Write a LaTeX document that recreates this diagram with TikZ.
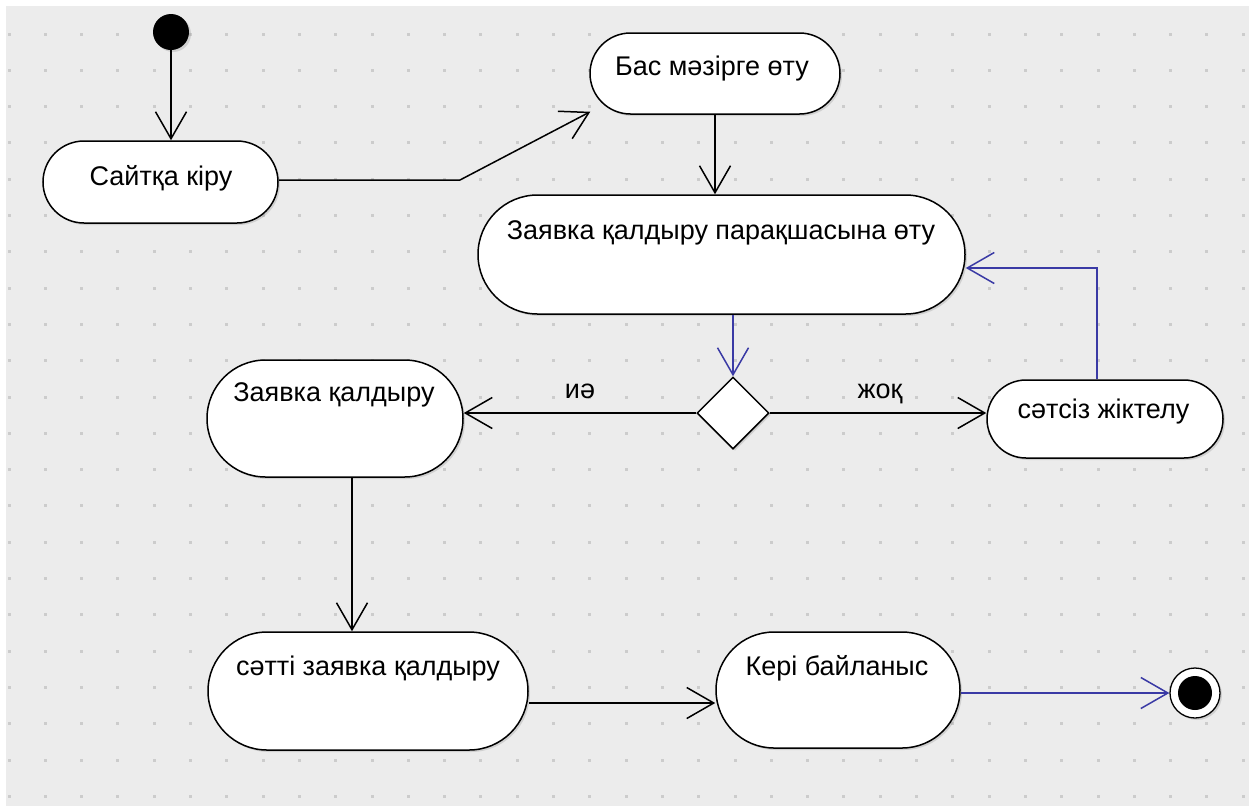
\documentclass[tikz,border=0pt]{standalone}
\usepackage{fontspec}
\setmainfont{Liberation Sans}
\usetikzlibrary{arrows.meta,shapes.geometric,shadows,calc}
\definecolor{canvas}{RGB}{236,236,236}
\definecolor{griddot}{RGB}{204,204,204}
\definecolor{flowblue}{RGB}{58,58,165}

\begin{document}
\begin{tikzpicture}[x=1pt,y=-1pt,
  act/.style={draw=black, line width=1.5pt, fill=white, rectangle, inner sep=0pt,
    drop shadow={shadow xshift=2pt, shadow yshift=-2pt, opacity=0.25}},
  lbl/.style={font=\fontsize{27}{32}\selectfont, inner sep=0pt, anchor=base},
  flow/.style={line width=1.5pt, -{Straight Barb[length=27pt,width=31pt]}},
  blueflow/.style={flow, draw=flowblue},
]
\useasboundingbox (0,0) rectangle (1256,807);

% canvas with dot grid
\fill[white] (0,0) rectangle (1256,807);
\fill[canvas] (6,6) rectangle (1249,806);
\foreach \i in {0,...,34}
  \foreach \j in {0,...,21}
    \fill[griddot] ({7.5+36.3*\i},{32.5+36.3*\j}) rectangle +(3,3);

% start and end
\node[circle, fill=black, minimum size=36pt, inner sep=0pt,
  drop shadow={shadow xshift=2pt, shadow yshift=-2pt, opacity=0.25}] (start) at (171,32) {};
\node[circle, draw=black, line width=1.3pt, fill=white, minimum size=50pt, inner sep=0pt,
  drop shadow={shadow xshift=2pt, shadow yshift=-2pt, opacity=0.25}] (finish) at (1195,693) {};
\node[circle, fill=black, minimum size=34pt, inner sep=0pt] (finishdot) at (finish) {};

% activities
\node[act, minimum width=235pt, minimum height=82pt, rounded corners=41pt] (sayt) at (160.5,182) {};
\node[lbl] (saytT) at (161,185) {Сайтқа кіру};

\node[act, minimum width=250pt, minimum height=81pt, rounded corners=40.5pt] (bas) at (715,73.5) {};
\node[lbl] (basT) at (712,75) {Бас мәзірге өту};

\node[act, minimum width=487pt, minimum height=119pt, rounded corners=59.5pt] (zp) at (721.5,254.5) {};
\node[lbl] (zpT) at (721,239) {Заявка қалдыру парақшасына өту};

\node[act, minimum width=256pt, minimum height=117pt, rounded corners=58.5pt] (zk) at (335,418.5) {};
\node[lbl] (zkT) at (334,401) {Заявка қалдыру};

\node[act, minimum width=236pt, minimum height=78pt, rounded corners=39pt] (sts) at (1105,419) {};
\node[lbl] (stsT) at (1103.5,418) {сәтсіз жіктелу};

\node[act, minimum width=320pt, minimum height=118pt, rounded corners=59pt] (stz) at (368,691) {};
\node[lbl] (stzT) at (368,675) {сәтті заявка қалдыру};

\node[act, minimum width=244pt, minimum height=116pt, rounded corners=58pt] (keri) at (838,690) {};
\node[lbl] (keriT) at (837,675) {Кері байланыс};

% decision
\node[diamond, draw=black, line width=1.5pt, fill=white, minimum width=72pt, minimum height=72pt,
  inner sep=0pt, drop shadow={shadow xshift=2pt, shadow yshift=-2pt, opacity=0.25}] (dec) at (733,413) {};
\node[lbl] (yes) at (580,398) {иә};
\node[lbl] (no) at (880,398) {жоқ};

% transitions
\draw[flow] (start.south) -- (start.south |- sayt.north);
\coordinate (kink) at (460,180);
\draw[flow] (sayt.east |- kink) -- (kink) -- ($(bas.south west)+(1,-3)$);
\draw[flow] (bas.south) -- (bas.south |- zp.north);
\draw[blueflow] (dec.north |- zp.south) -- (dec.north);
\draw[flow] (dec.west) -- (dec.west -| zk.east);
\draw[flow] (dec.east) -- (dec.east -| sts.west);
\coordinate (loopup) at (1097,268);
\draw[blueflow] (loopup |- sts.north) -- (loopup) -- (loopup -| zp.east);
\draw[flow] ([xshift=17pt]zk.south) -- ([xshift=17pt]zk.south |- stz.north);
\draw[flow] ([yshift=-12pt]stz.east) -- ([yshift=-12pt]stz.east -| keri.west);
\draw[blueflow] (keri.east |- finish.west) -- (finish.west);
\end{tikzpicture}
\end{document}
